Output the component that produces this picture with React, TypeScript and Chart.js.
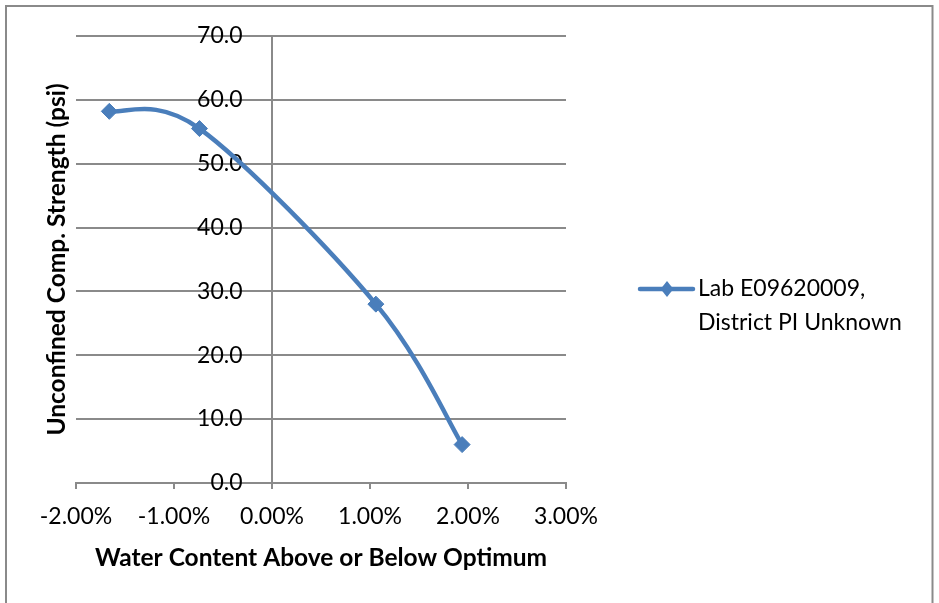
import { useEffect, useRef } from "react";
import { Chart, registerables } from "chart.js";

Chart.register(...registerables);

// Water content relative to optimum (fraction) and measured strength (psi)
const waterContent = [-0.0166, -0.0074, 0.0106, 0.0194];
const strength = [58.2, 55.5, 28.0, 6.0];

const seriesLabel = ["Lab E09620009,", "District PI Unknown"];
const xAxisTitle = "Water Content Above or Below Optimum";
const yAxisTitle = "Unconfined Comp. Strength (psi)";

const xMin = -0.02;
const xMax = 0.03;
const xStep = 0.01;
const yMin = 0;
const yMax = 70;
const yStep = 10;

const FONT = "Lato, 'Open Sans', sans-serif";
const SERIES_COLOR = "#4a7ebb";
const GRID_COLOR = "#8a8a8a";
const FRAME_COLOR = "#8a8a8a";

// Outer frame around the whole chart
const framePlugin = {
  id: "frame",
  beforeDraw(chart: any) {
    const { ctx, width, height } = chart;
    ctx.save();
    ctx.fillStyle = "#ffffff";
    ctx.fillRect(0, 0, width, height);
    ctx.strokeStyle = FRAME_COLOR;
    ctx.lineWidth = 2;
    ctx.strokeRect(6, 6, width - 12.5, height + 40);
    ctx.restore();
  },
};

// Spreadsheet-style smoothing: Catmull-Rom control points (1/6 of the
// neighbour chord), with the end points using their own segment.
const smoothCurvePlugin = {
  id: "smoothCurve",
  beforeDatasetDraw(chart: any, args: any) {
    const meta = args.meta;
    const line = meta.dataset;
    const pts = meta.data;
    if (!line || !pts || pts.length < 2) return;
    if (typeof line.updateControlPoints === "function") {
      line.updateControlPoints(chart.chartArea, "x");
    }
    const n = pts.length;
    for (let i = 0; i < n; i++) {
      const p = pts[i];
      const prev = pts[Math.max(i - 1, 0)];
      const next = pts[Math.min(i + 1, n - 1)];
      const dx = (next.x - prev.x) / 6;
      const dy = (next.y - prev.y) / 6;
      p.cp1x = p.x - dx;
      p.cp1y = p.y - dy;
      p.cp2x = p.x + dx;
      p.cp2y = p.y + dy;
    }
    line._pointsUpdated = true;
    line._path = undefined;
  },
};

// Legend key on the right: line with a diamond, then the wrapped series name
const sideLegendPlugin = {
  id: "sideLegend",
  afterDraw(chart: any) {
    const { ctx, chartArea } = chart;
    const ds = chart.data.datasets[0];
    const x0 = chartArea.right + 74;
    const y0 = chartArea.top + 253;
    ctx.save();
    ctx.strokeStyle = ds.borderColor;
    ctx.lineWidth = ds.borderWidth;
    ctx.lineCap = "round";
    ctx.beginPath();
    ctx.moveTo(x0, y0);
    ctx.lineTo(x0 + 53, y0);
    ctx.stroke();
    const cx = x0 + 27;
    const r = 8;
    ctx.fillStyle = ds.pointBackgroundColor;
    ctx.beginPath();
    ctx.moveTo(cx, y0 - r);
    ctx.lineTo(cx + r * 0.8, y0);
    ctx.lineTo(cx, y0 + r);
    ctx.lineTo(cx - r * 0.8, y0);
    ctx.closePath();
    ctx.fill();
    ctx.fillStyle = "#000000";
    ctx.font = `23px ${FONT}`;
    ctx.textBaseline = "middle";
    ctx.textAlign = "left";
    seriesLabel.forEach((line, i) => {
      ctx.fillText(line, x0 + 58, y0 + i * 34);
    });
    ctx.restore();
  },
};

export default function App() {
  const canvasRef = useRef<HTMLCanvasElement | null>(null);

  useEffect(() => {
    document.body.style.margin = "0";
    const canvas = canvasRef.current;
    if (!canvas) return;

    const points = waterContent.map((x, i) => ({ x, y: strength[i] }));

    const chart = new Chart(canvas, {
      type: "line",
      data: {
        datasets: [
          {
            label: seriesLabel.join(" "),
            data: points,
            borderColor: SERIES_COLOR,
            backgroundColor: SERIES_COLOR,
            borderWidth: 4.5,
            tension: 0.4,
            fill: false,
            pointStyle: "rectRot",
            pointRadius: 8,
            pointBackgroundColor: SERIES_COLOR,
            pointBorderColor: SERIES_COLOR,
            pointBorderWidth: 1,
            clip: false,
          } as any,
        ],
      },
      options: {
        animation: false,
        responsive: false,
        devicePixelRatio: 1,
        events: [],
        layout: {
          padding: { left: 38, top: 36, right: 373, bottom: 28.5 },
        },
        plugins: {
          legend: { display: false },
          tooltip: { enabled: false },
        },
        scales: {
          x: {
            type: "linear",
            position: "bottom",
            min: xMin,
            max: xMax,
            ticks: {
              stepSize: xStep,
              padding: 14,
              color: "#000000",
              font: { family: FONT, size: 23 },
              callback: (v: any) => `${(Number(v) * 100).toFixed(2)}%`,
            },
            grid: {
              drawOnChartArea: false,
              drawTicks: true,
              tickLength: 6,
              color: GRID_COLOR,
              lineWidth: 2,
            },
            border: { display: true, color: GRID_COLOR, width: 2 },
            title: {
              display: true,
              text: xAxisTitle,
              color: "#000000",
              font: { family: FONT, size: 24.5, weight: "bold", lineHeight: 1 },
              padding: { top: 1.5, bottom: 4 },
            },
          },
          y: {
            type: "linear",
            position: { x: 0 } as any,
            min: yMin,
            max: yMax,
            afterFit: (scale: any) => {
              scale.width = 0;
            },
            ticks: {
              stepSize: yStep,
              color: "#000000",
              font: { family: FONT, size: 23 },
              // trailing gap keeps the value clear of the vertical axis line
              callback: (v: any) => `${Number(v).toFixed(1)}     `,
            },
            grid: {
              color: GRID_COLOR,
              lineWidth: 2,
              drawTicks: true,
              tickLength: 5,
            },
            border: { display: true, color: GRID_COLOR, width: 2 },
          },
          yTitle: {
            type: "linear",
            position: "left",
            display: true,
            ticks: { display: false },
            grid: { display: false, drawTicks: false },
            border: { display: false },
            title: {
              display: true,
              text: yAxisTitle,
              color: "#000000",
              font: { family: FONT, size: 24.5, weight: "bold", lineHeight: 1 },
              padding: { top: 6.75, bottom: 6.75 },
            },
          },
        },
      } as any,
      plugins: [framePlugin, smoothCurvePlugin, sideLegendPlugin],
    });

    return () => chart.destroy();
  }, []);

  return (
    <div style={{ width: 939, height: 603, position: "relative" }}>
      <canvas ref={canvasRef} width={939} height={603} />
    </div>
  );
}
